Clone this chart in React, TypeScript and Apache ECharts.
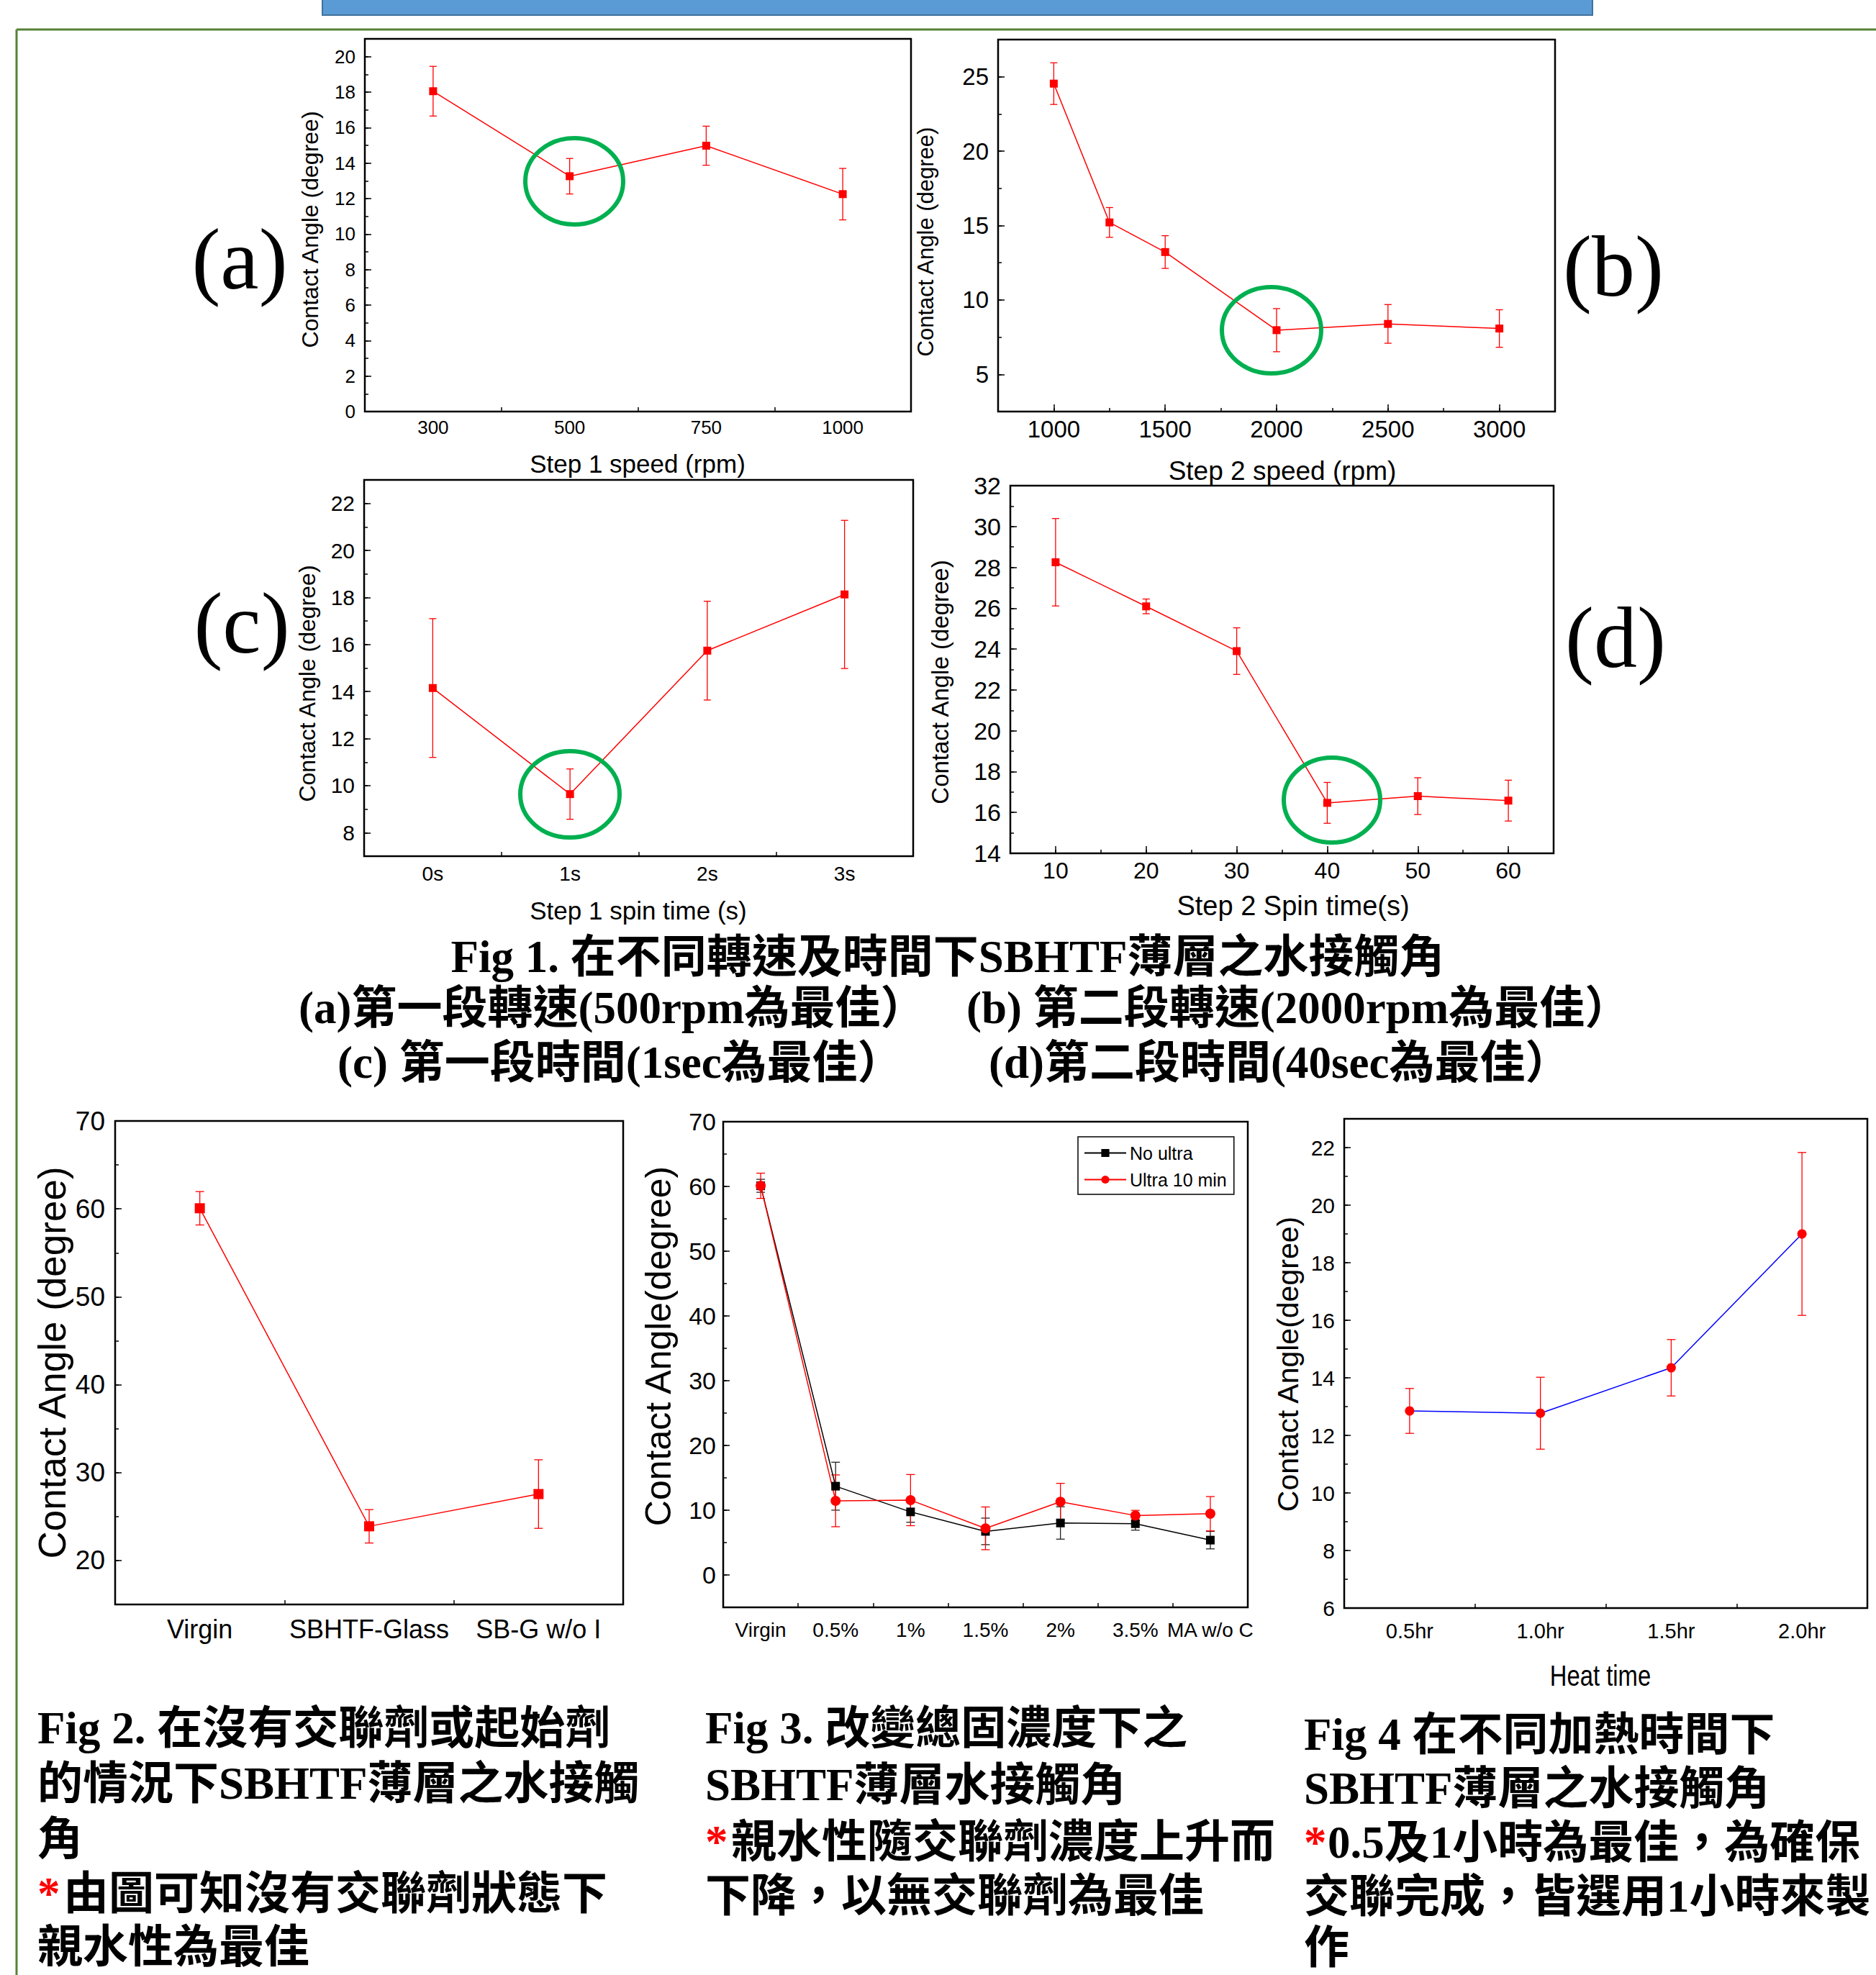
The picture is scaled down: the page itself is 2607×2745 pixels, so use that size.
import React, { useEffect, useRef } from "react";
import * as echarts from "echarts";

const W = 2607;
const H = 2745;

// ---------- data ----------
// (a) Step 1 speed
const aCats = ["300", "500", "750", "1000"];
const aVals = [18.05, 13.26, 14.98, 12.25];
const aErrs = [1.4, 1.0, 1.1, 1.45];
const aYTicks = [0, 2, 4, 6, 8, 10, 12, 14, 16, 18, 20];

// (b) Step 2 speed
const bX = [1000, 1250, 1500, 2000, 2500, 3000];
const bVals = [24.54, 15.21, 13.22, 7.97, 8.39, 8.08];
const bErrs = [1.4, 1.0, 1.1, 1.45, 1.3, 1.26];
const bXTicks = [1000, 1500, 2000, 2500, 3000];
const bYTicks = [5, 10, 15, 20, 25];

// (c) Step 1 spin time
const cCats = ["0s", "1s", "2s", "3s"];
const cVals = [14.15, 9.64, 15.74, 18.13];
const cErrs = [2.95, 1.07, 2.1, 3.15];
const cYTicks = [8, 10, 12, 14, 16, 18, 20, 22];

// (d) Step 2 spin time
const dX = [10, 20, 30, 40, 50, 60];
const dVals = [28.25, 26.09, 23.9, 16.47, 16.8, 16.58];
const dErrs = [2.14, 0.36, 1.14, 1.0, 0.9, 1.0];
const dXTicks = [10, 20, 30, 40, 50, 60];
const dYTicks = [14, 16, 18, 20, 22, 24, 26, 28, 30, 32];

// Fig 2
const f2Cats = ["Virgin", "SBHTF-Glass", "SB-G w/o I"];
const f2Vals = [60.07, 23.89, 27.56];
const f2Errs = [1.9, 1.9, 3.9];
const f2YTicks = [20, 30, 40, 50, 60, 70];

// Fig 3
const f3Cats = ["Virgin", "0.5%", "1%", "1.5%", "2%", "3.5%", "MA w/o C"];
const f3NoUltra = [60.1, 13.71, 9.74, 6.73, 8.03, 7.92, 5.38];
const f3NoUltraErr = [1.0, 3.7, 1.6, 2.05, 2.5, 1.0, 1.35];
const f3Ultra = [60.1, 11.45, 11.56, 7.2, 11.3, 9.18, 9.46];
const f3UltraErr = [1.95, 4.0, 3.95, 3.3, 2.85, 0.8, 2.65];
const f3YTicks = [0, 10, 20, 30, 40, 50, 60, 70];
const f3Legend = ["No ultra", "Ultra 10 min"];

// Fig 4
const f4Cats = ["0.5hr", "1.0hr", "1.5hr", "2.0hr"];
const f4Vals = [12.85, 12.77, 14.35, 19.0];
const f4Errs = [0.78, 1.25, 0.98, 2.83];
const f4YTicks = [6, 8, 10, 12, 14, 16, 18, 20, 22];

// ---------- styling ----------
const SANS = "'Liberation Sans', Arial, sans-serif";
const SERIF = "'Liberation Serif', 'Times New Roman', serif";
const SERIF_CJK = "'Liberation Serif', 'Noto Sans CJK TC', serif";
const RED = "#ff0000";

type S = {
  name: string;
  vals: number[];
  errs: number[];
  line: string;
  marker: string;
  errColor: string;
  symbol: string;
  size: number;
};

type Panel = {
  grid: { left: number; top: number; width: number; height: number };
  xCats?: string[];
  xVals?: number[];
  xMin?: number;
  xMax?: number;
  xMajor?: number[];
  xMinor?: number;
  yMin: number;
  yMax: number;
  yMajor: number[];
  yMinor: number;
  xFont: number;
  yFont: number;
  xMargin: number;
  yMargin: number;
  cap: number;
  series: S[];
};

const redSq = (name: string, vals: number[], errs: number[], size = 11): S => ({
  name, vals, errs, line: RED, marker: RED, errColor: RED, symbol: "rect", size,
});

const panels: Panel[] = [
  {
    grid: { left: 507, top: 54, width: 759, height: 518 },
    xCats: aCats, yMin: 0, yMax: 21, yMajor: aYTicks, yMinor: 1,
    xFont: 26, yFont: 26, xMargin: 9, yMargin: 13, cap: 10,
    series: [redSq("a", aVals, aErrs)],
  },
  {
    grid: { left: 1387, top: 55, width: 774, height: 517 },
    xVals: bX, xMin: 750, xMax: 3250, xMajor: bXTicks, xMinor: 250,
    yMin: 2.5, yMax: 27.5, yMajor: bYTicks, yMinor: 2.5,
    xFont: 33, yFont: 33, xMargin: 8, yMargin: 13, cap: 10,
    series: [redSq("b", bVals, bErrs)],
  },
  {
    grid: { left: 506, top: 667, width: 763, height: 523 },
    xCats: cCats, yMin: 7, yMax: 23, yMajor: cYTicks, yMinor: 1,
    xFont: 28, yFont: 30, xMargin: 10, yMargin: 13, cap: 10,
    series: [redSq("c", cVals, cErrs)],
  },
  {
    grid: { left: 1404, top: 675, width: 755, height: 511 },
    xVals: dX, xMin: 5, xMax: 65, xMajor: dXTicks, xMinor: 5,
    yMin: 14, yMax: 32, yMajor: dYTicks, yMinor: 1,
    xFont: 32, yFont: 34, xMargin: 8, yMargin: 13, cap: 10,
    series: [redSq("d", dVals, dErrs)],
  },
  {
    grid: { left: 160, top: 1558, width: 706, height: 672 },
    xCats: f2Cats, yMin: 15, yMax: 70, yMajor: f2YTicks, yMinor: 5,
    xFont: 36, yFont: 37, xMargin: 16, yMargin: 14, cap: 12,
    series: [redSq("f2", f2Vals, f2Errs, 14)],
  },
  {
    grid: { left: 1005, top: 1559, width: 729, height: 675 },
    xCats: f3Cats, yMin: -5, yMax: 70, yMajor: f3YTicks, yMinor: 5,
    xFont: 28, yFont: 34, xMargin: 17, yMargin: 10, cap: 12,
    series: [
      { name: f3Legend[0], vals: f3NoUltra, errs: f3NoUltraErr, line: "#000", marker: "#000", errColor: "#222", symbol: "rect", size: 12 },
      { name: f3Legend[1], vals: f3Ultra, errs: f3UltraErr, line: RED, marker: RED, errColor: RED, symbol: "circle", size: 14 },
    ],
  },
  {
    grid: { left: 1868, top: 1555, width: 727, height: 680 },
    xCats: f4Cats, yMin: 6, yMax: 23, yMajor: f4YTicks, yMinor: 1,
    xFont: 29, yFont: 30, xMargin: 17, yMargin: 13, cap: 12,
    series: [{ name: "f4", vals: f4Vals, errs: f4Errs, line: "#0000ff", marker: RED, errColor: RED, symbol: "circle", size: 13 }],
  },
];

const makeErr = (color: string, cap: number, lw: number) => (_params: any, api: any) => {
  const x = api.value(0);
  const y = api.value(1);
  const e = api.value(2);
  const t = api.coord([x, y + e]);
  const b = api.coord([x, y - e]);
  const h = cap / 2;
  const st = { stroke: color, lineWidth: lw };
  return {
    type: "group",
    children: [
      { type: "line", shape: { x1: t[0], y1: t[1], x2: b[0], y2: b[1] }, style: st },
      { type: "line", shape: { x1: t[0] - h, y1: t[1], x2: t[0] + h, y2: t[1] }, style: st },
      { type: "line", shape: { x1: b[0] - h, y1: b[1], x2: b[0] + h, y2: b[1] }, style: st },
    ],
  };
};

const txt = (x: number, y: number, text: string, fontSize: number, fontFamily: string, o: any = {}) => ({
  type: "text",
  x,
  y,
  rotation: o.rot || 0,
  scaleX: o.sx || 1,
  z: 20,
  style: {
    text,
    fontSize,
    fontFamily,
    fontWeight: o.weight || "normal",
    fill: o.fill || "#000",
    align: o.align || "center",
    verticalAlign: "middle",
    textAlign: o.align || "center",
    textVerticalAlign: "middle",
  },
});

const ellipse = (cx: number, cy: number, rx: number, ry: number) => ({
  type: "ellipse",
  z: 20,
  shape: { cx, cy, rx, ry },
  style: { fill: "none", stroke: "#00b050", lineWidth: 6 },
});

const plain = (v: number) => String(v);

function buildOption() {
  const grid: any[] = [];
  const xAxis: any[] = [];
  const yAxis: any[] = [];
  const series: any[] = [];
  const tickStyle = { color: "#000", width: 1.5 };

  panels.forEach((p, gi) => {
    grid.push({ ...p.grid, show: true, borderColor: "#000", borderWidth: 2.5, backgroundColor: "transparent", containLabel: false });
    const xi = xAxis.length;
    if (p.xCats) {
      xAxis.push({
        type: "category", gridIndex: gi, data: p.xCats, boundaryGap: true, position: "bottom",
        axisLine: { show: false, onZero: false },
        axisTick: { show: true, inside: true, length: 6, alignWithLabel: false, interval: 0, lineStyle: tickStyle },
        axisLabel: { interval: 0, color: "#000", fontSize: p.xFont, fontFamily: SANS, margin: p.xMargin, hideOverlap: false },
        splitLine: { show: false },
      });
    } else {
      xAxis.push({
        type: "value", gridIndex: gi, min: p.xMin, max: p.xMax, position: "bottom",
        axisLine: { show: false, onZero: false },
        axisTick: { show: true, inside: true, length: 10, customValues: p.xMajor, lineStyle: tickStyle },
        axisLabel: { customValues: p.xMajor, formatter: plain, color: "#000", fontSize: p.xFont, fontFamily: SANS, margin: p.xMargin },
        splitLine: { show: false },
      });
      xAxis.push({
        type: "value", gridIndex: gi, min: p.xMin, max: p.xMax, interval: p.xMinor, position: "bottom",
        axisLine: { show: false, onZero: false },
        axisTick: { show: true, inside: true, length: 5, lineStyle: tickStyle },
        axisLabel: { show: false }, splitLine: { show: false },
      });
    }
    const yi = yAxis.length;
    yAxis.push({
      type: "value", gridIndex: gi, min: p.yMin, max: p.yMax, position: "left",
      axisLine: { show: false, onZero: false },
      axisTick: { show: true, inside: true, length: 9, customValues: p.yMajor, lineStyle: tickStyle },
      axisLabel: { customValues: p.yMajor, formatter: plain, color: "#000", fontSize: p.yFont, fontFamily: SANS, margin: p.yMargin },
      splitLine: { show: false },
    });
    yAxis.push({
      type: "value", gridIndex: gi, min: p.yMin, max: p.yMax, interval: p.yMinor, position: "left",
      axisLine: { show: false, onZero: false },
      axisTick: { show: true, inside: true, length: 5, lineStyle: tickStyle },
      axisLabel: { show: false }, splitLine: { show: false },
    });
    p.series.forEach((s) => {
      const xs = p.xCats ? s.vals.map((_, i) => i) : (p.xVals as number[]);
      series.push({
        type: "custom", name: s.name + " err", xAxisIndex: xi, yAxisIndex: yi, z: 2, silent: true,
        data: s.vals.map((v, i) => [xs[i], v, s.errs[i]]),
        encode: { x: 0, y: 1 },
        renderItem: makeErr(s.errColor, p.cap, 1.3),
      });
      series.push({
        type: "line", name: s.name, xAxisIndex: xi, yAxisIndex: yi, z: 3,
        data: s.vals.map((v, i) => [xs[i], v]),
        symbol: s.symbol, symbolSize: s.size, showSymbol: true,
        lineStyle: { color: s.line, width: 1.5 },
        itemStyle: { color: s.marker },
      });
    });
  });

  const B = { weight: "bold", align: "left" };

  const graphic: any[] = [
    // banner & frame
    { type: "rect", z: 5, shape: { x: 448, y: -4, width: 1765, height: 25 }, style: { fill: "#5b9bd5", stroke: "#41719c", lineWidth: 2 } },
    { type: "line", z: 5, shape: { x1: 23, y1: 41, x2: W, y2: 41 }, style: { stroke: "#548235", lineWidth: 3 } },
    { type: "line", z: 5, shape: { x1: 23, y1: 41, x2: 23, y2: H }, style: { stroke: "#548235", lineWidth: 3 } },

    // panel labels
    txt(333, 360, "(a)", 120, SERIF),
    txt(2242, 370, "(b)", 120, SERIF),
    txt(336, 866, "(c)", 120, SERIF),
    txt(2245, 886, "(d)", 120, SERIF),

    // y titles
    txt(431, 319, "Contact Angle (degree)", 32, SANS, { rot: Math.PI / 2 }),
    txt(1286, 336, "Contact Angle (degree)", 31, SANS, { rot: Math.PI / 2 }),
    txt(427, 950, "Contact Angle (degree)", 32, SANS, { rot: Math.PI / 2 }),
    txt(1306, 948, "Contact Angle (degree)", 33, SANS, { rot: Math.PI / 2 }),
    txt(72, 1894, "Contact Angle (degree)", 53, SANS, { rot: Math.PI / 2 }),
    txt(915, 1871, "Contact Angle(degree)", 50, SANS, { rot: Math.PI / 2 }),
    txt(1790, 1896, "Contact Angle(degree)", 41, SANS, { rot: Math.PI / 2 }),

    // x names
    txt(886, 644, "Step 1 speed (rpm)", 35, SANS),
    txt(1782, 654, "Step 2 speed (rpm)", 37, SANS),
    txt(887, 1265, "Step 1 spin time (s)", 35, SANS),
    txt(1797, 1259, "Step 2 Spin time(s)", 38, SANS),
    txt(2224, 2329, "Heat time", 40, SANS, { sx: 0.82 }),

    // green highlight ellipses
    ellipse(798, 252, 68, 60),
    ellipse(1767, 459, 69, 60),
    ellipse(792, 1104, 69, 60),
    ellipse(1851, 1112, 67, 59),

    // Fig 1 captions
    txt(1317, 1330, "Fig 1. 在不同轉速及時間下SBHTF薄層之水接觸角", 63, SERIF_CJK, { weight: "bold" }),
    txt(415, 1401, "(a)第一段轉速(500rpm為最佳）", 63, SERIF_CJK, B),
    txt(1343, 1401, "(b) 第二段轉速(2000rpm為最佳）", 63, SERIF_CJK, B),
    txt(469, 1477, "(c) 第一段時間(1sec為最佳）", 63, SERIF_CJK, B),
    txt(1374, 1477, "(d)第二段時間(40sec為最佳）", 63, SERIF_CJK, B),

    // Fig 2 text
    txt(52, 2402, "Fig 2. 在沒有交聯劑或起始劑", 63, SERIF_CJK, B),
    txt(52, 2479, "的情況下SBHTF薄層之水接觸", 63, SERIF_CJK, B),
    txt(52, 2556, "角", 63, SERIF_CJK, B),
    txt(52, 2632, "*", 63, SERIF_CJK, { ...B, fill: RED }),
    txt(88, 2632, "由圖可知沒有交聯劑狀態下", 63, SERIF_CJK, B),
    txt(52, 2706, "親水性為最佳", 63, SERIF_CJK, B),

    // Fig 3 text
    txt(980, 2402, "Fig 3. 改變總固濃度下之", 63, SERIF_CJK, B),
    txt(980, 2481, "SBHTF薄層水接觸角", 63, SERIF_CJK, B),
    txt(980, 2560, "*", 63, SERIF_CJK, { ...B, fill: RED }),
    txt(1016, 2560, "親水性隨交聯劑濃度上升而", 63, SERIF_CJK, B),
    txt(980, 2635, "下降，以無交聯劑為最佳", 63, SERIF_CJK, B),

    // Fig 4 text
    txt(1812, 2411, "Fig 4 在不同加熱時間下", 63, SERIF_CJK, B),
    txt(1812, 2486, "SBHTF薄層之水接觸角", 63, SERIF_CJK, B),
    txt(1812, 2561, "*", 63, SERIF_CJK, { ...B, fill: RED }),
    txt(1845, 2561, "0.5及1小時為最佳，為確保", 63, SERIF_CJK, B),
    txt(1812, 2636, "交聯完成，皆選用1小時來製", 63, SERIF_CJK, B),
    txt(1812, 2707, "作", 63, SERIF_CJK, B),
  ];

  return {
    animation: false,
    backgroundColor: "#fff",
    grid,
    xAxis,
    yAxis,
    series,
    legend: {
      data: f3Legend,
      left: 1498,
      top: 1580,
      orient: "vertical",
      borderColor: "#000",
      borderWidth: 1.5,
      backgroundColor: "#fff",
      padding: [10, 10, 8, 8],
      itemWidth: 58,
      itemHeight: 14,
      itemGap: 12,
      textStyle: { fontSize: 25, fontFamily: SANS, color: "#000" },
    },
    graphic,
  };
}

export default function App() {
  const ref = useRef<HTMLDivElement>(null);
  useEffect(() => {
    const chart = echarts.init(ref.current as HTMLDivElement, null, { renderer: "svg", width: W, height: H });
    chart.setOption(buildOption() as any);
    return () => chart.dispose();
  }, []);
  return (
    <div
      ref={ref}
      style={{ position: "absolute", left: 0, top: 0, width: W, height: H, background: "#fff" }}
    />
  );
}
